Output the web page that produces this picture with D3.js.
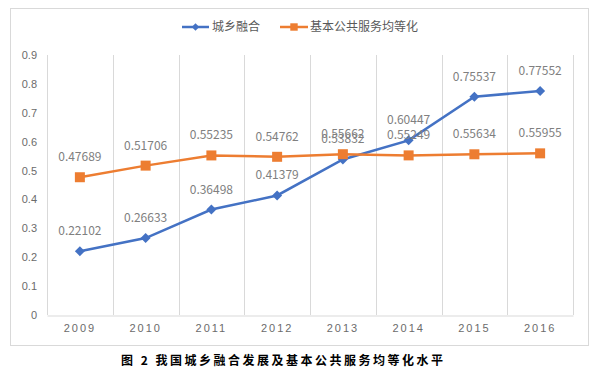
<!DOCTYPE html>
<html>
<head>
<meta charset="utf-8">
<script src="https://cdn.jsdelivr.net/npm/d3@7"></script>
<style>
  body { margin: 0; background: #fff; }
  svg { display: block; font-family: "Noto Sans CJK SC", "Noto Sans", sans-serif; }
</style>
</head>
<body>
<div id="chart"></div>
<script>
const width = 600;
const height = 388;

const years = ["2009", "2010", "2011", "2012", "2013", "2014", "2015", "2016"];
const urbanRural = [0.22102, 0.26633, 0.36498, 0.41379, 0.53832, 0.60447, 0.75537, 0.77552];
const publicService = [0.47689, 0.51706, 0.55235, 0.54762, 0.55662, 0.55249, 0.55634, 0.55955];
const yTicks = [0, 0.1, 0.2, 0.3, 0.4, 0.5, 0.6, 0.7, 0.8, 0.9];
const seriesNames = ["城乡融合", "基本公共服务均等化"];
const caption = "图 2 我国城乡融合发展及基本公共服务均等化水平";

const blue = "#4472C4";
const orange = "#ED7D31";

const svg = d3.select("#chart").append("svg")
    .attr("width", width)
    .attr("height", height);

// chart frame
svg.append("rect")
    .attr("x", 10.5).attr("y", 8.5)
    .attr("width", 578).attr("height", 337)
    .attr("fill", "#fff")
    .attr("stroke", "#d9d9d9");

const x = d3.scaleBand().domain(years).range([47, 573]);
const y = d3.scaleLinear().domain([0, 0.9]).range([315, 55]);

// vertical gridlines at category boundaries
const bounds = years.map(d => x(d)).concat([x.range()[1]]);
svg.append("g")
  .selectAll("line")
  .data(bounds)
  .join("line")
    .attr("x1", d => Math.round(d) + 0.5)
    .attr("x2", d => Math.round(d) + 0.5)
    .attr("y1", y(0.9))
    .attr("y2", y(0))
    .attr("stroke", "#d9d9d9");

// x axis
const xAxis = svg.append("g")
    .attr("transform", `translate(0,${y(0) + 0.5})`)
    .call(d3.axisBottom(x).tickSize(0).tickPadding(9));
xAxis.select(".domain").attr("stroke", "#d9d9d9");
xAxis.selectAll("text")
    .attr("fill", "#6b6b6b")
    .style("font-size", "11px")
    .style("letter-spacing", "2px")
    .style("font-family", "Liberation Sans, sans-serif");

// y axis
const yAxis = svg.append("g")
    .attr("transform", "translate(47,0)")
    .call(d3.axisLeft(y).tickValues(yTicks).tickSize(0).tickPadding(10).tickFormat(d => d === 0 ? "0" : d3.format(".1f")(d)));
yAxis.select(".domain").remove();
yAxis.selectAll("text")
    .attr("fill", "#6b6b6b")
    .style("font-size", "11px")
    .style("font-family", "Liberation Sans, sans-serif");

const cx = d => x(d) + x.bandwidth() / 2;

// diamond = square turned 45 degrees
const series = [
  { name: seriesNames[0], values: urbanRural, color: blue, size: 50, rot: 45 },
  { name: seriesNames[1], values: publicService, color: orange, size: 100, rot: 0 }
];

const line = d3.line()
    .x((d, i) => cx(years[i]))
    .y(d => y(d));

series.forEach(s => {
  svg.append("path")
      .datum(s.values)
      .attr("d", line)
      .attr("fill", "none")
      .attr("stroke", s.color)
      .attr("stroke-width", 2.5);

  svg.append("g")
    .selectAll("path")
    .data(s.values)
    .join("path")
      .attr("transform", (d, i) => `translate(${cx(years[i])},${y(d)}) rotate(${s.rot})`)
      .attr("d", d3.symbol().type(d3.symbolSquare).size(s.size))
      .attr("fill", s.color);
});

// data labels
series.forEach(s => {
  svg.append("g")
    .selectAll("text")
    .data(s.values)
    .join("text")
      .attr("x", (d, i) => cx(years[i]))
      .attr("y", d => y(d) - 16)
      .attr("text-anchor", "middle")
      .attr("fill", "#808080")
      .style("font-size", "12px")
      .text(d => d3.format(".5f")(d));
});

// legend
const legend = svg.append("g").attr("transform", "translate(0,27)");
const legendItems = [
  { s: series[0], x1: 182, x2: 209, tx: 212 },
  { s: series[1], x1: 280, x2: 308, tx: 310 }
];
legendItems.forEach(l => {
  legend.append("line")
      .attr("x1", l.x1).attr("x2", l.x2)
      .attr("stroke", l.s.color)
      .attr("stroke-width", 2.5);
  legend.append("path")
      .attr("transform", `translate(${(l.x1 + l.x2) / 2},0) rotate(${l.s.rot})`)
      .attr("d", d3.symbol().type(d3.symbolSquare).size(l.s.size * 0.55))
      .attr("fill", l.s.color);
  legend.append("text")
      .attr("x", l.tx)
      .attr("dy", "0.35em")
      .attr("fill", "#595959")
      .style("font-size", "12px")
      .text(l.s.name);
});

// caption
svg.append("text")
    .attr("x", 121)
    .attr("y", 361)
    .attr("dy", "0.35em")
    .attr("fill", "#000")
    .style("font-size", "12px")
    .style("font-weight", "bold")
    .style("letter-spacing", "2.5px")
    .text(caption);
</script>
</body>
</html>
